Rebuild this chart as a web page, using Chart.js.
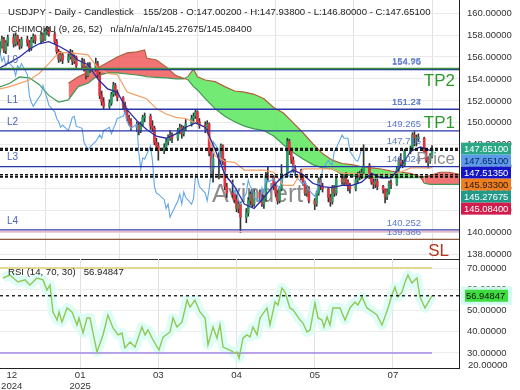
<!DOCTYPE html>
<html><head><meta charset="utf-8">
<script src="https://cdn.jsdelivr.net/npm/chart.js@4.4.0/dist/chart.umd.min.js"></script>
<style>
html,body{margin:0;padding:0;background:#fff;width:520px;height:390px;overflow:hidden}
#wrap{position:relative;width:520px;height:390px;background:#fff}
#c1{position:absolute;left:0;top:0}
#c2{position:absolute;left:0;top:259px}
</style></head><body>
<div id="wrap"><canvas id="c1" width="520" height="262"></canvas><canvas id="c2" width="520" height="131"></canvas></div>
<script>
// ---------------- DATA ----------------
const openVals = [
156.6,157.0,157.6,156.6,157.3, 157.8,157.2,157.9,157.4,157.0, 157.6,157.3,156.8,157.6,157.9, 157.5,158.0,157.6,158.3,158.5,
158.1,157.4,156.5,155.8,156.2, 155.7,156.0,156.4,155.6,156.0, 155.2,155.6,155.0,154.3,155.2, 154.9,155.4,154.4,152.5,151.9,
151.5,151.8,152.6,153.4,152.8, 152.3,151.6,151.0,150.4,150.1, 149.6,149.8,149.3,149.9,150.5, 150.6,149.7,149.5,148.2,147.9,
147.5,147.8,148.3,148.6,148.9, 148.6,149.3,149.6,149.0,149.5, 149.9,150.4,150.6,151.0,150.1, 149.8,149.5,149.9,147.3,145.8,
146.8,146.7,147.9,146.5,144.2, 143.6,143.5,143.0,142.2,142.6, 141.4,141.8,142.9,143.5,142.6, 143.7,143.2,142.6,143.1,145.2,
145.0,144.2,143.6,142.9,144.0, 145.4,148.3,147.5,146.6,145.8, 145.6,145.0,144.5,143.6,144.0, 142.9,142.6,143.6,144.8,144.2,
144.0,143.2,142.8,144.1,143.6, 144.9,144.6,144.9,144.6,144.2, 144.0,144.8,145.3,145.1,145.5, 146.1,145.2,144.6,144.4,144.7,
144.2,143.9,143.3,143.7,144.5, 144.4,145.8,146.6,146.3,146.2, 147.4,147.7,148.9,148.6,148.6, 148.6,147.4,146.6,146.5,147.002];
const highVals = [
157.4,157.9,157.8,157.5,158.0, 158.1,158.2,158.0,157.6,157.8, 157.9,157.5,157.8,158.1,158.0, 158.3,158.2,158.5,158.8,158.7,
158.3,157.6,156.7,156.5,156.4, 156.3,156.7,156.6,156.2,156.1, 155.9,155.8,155.2,155.5,155.5, 155.9,155.6,154.6,152.9,152.3,
152.1,152.8,153.7,153.6,153.0, 152.4,151.9,151.3,150.7,150.4, 150.1,150.0,150.1,150.7,150.9, 150.8,150.2,149.7,148.6,148.2,
148.1,148.5,148.9,149.3,149.1, 149.5,149.9,149.8,149.7,150.3, 150.7,150.9,151.2,151.1,150.4, 150.1,150.2,150.0,147.6,147.2,
147.3,148.1,148.0,146.7,144.5, 144.8,143.8,143.4,142.9,142.8, 142.2,143.2,143.7,143.9,143.9, 143.9,143.5,143.4,145.5,146.0,
145.2,144.4,143.8,144.2,146.2, 148.6,148.5,147.7,146.9,146.1, 145.8,145.3,144.7,144.3,144.2, 143.1,143.8,145.0,145.1,144.5,
144.1,143.5,144.3,144.3,145.1, 145.3,145.2,145.5,144.8,144.5, 145.0,145.5,145.6,145.8,148.0, 146.3,145.4,144.9,144.9,144.9,
144.3,144.0,144.0,144.7,144.8, 146.0,146.8,147.2,146.6,147.6, 147.9,149.1,149.2,148.9,149.0, 148.7,147.6,146.9,147.2,147.938];
const lowVals = [
156.2,156.8,156.4,156.3,157.0, 156.9,157.0,157.1,156.7,156.8, 157.0,156.5,156.6,157.3,157.2, 157.3,157.4,157.5,158.0,157.9,
157.2,156.3,155.5,155.6,155.4, 155.5,155.8,155.3,155.4,154.9, 155.0,154.7,154.0,154.2,154.6, 154.7,154.1,152.2,151.6,151.2,
151.3,151.6,152.4,152.5,152.0, 151.3,150.8,150.2,149.8,149.3, 149.2,148.9,149.1,149.7,150.1, 149.4,149.2,148.0,147.6,146.6,
147.2,147.5,148.0,148.4,148.2, 148.4,149.0,148.6,148.8,149.3, 149.7,150.0,150.4,149.9,149.5, 149.1,149.3,147.0,145.2,144.6,
144.9,146.3,146.2,143.9,143.2, 143.2,142.7,141.9,141.8,140.0, 140.9,141.5,142.5,142.3,142.4, 142.9,142.4,142.2,142.9,144.7,
143.9,143.3,142.6,142.7,143.8, 145.2,147.1,146.3,145.5,145.2, 144.8,144.3,143.4,143.3,142.7, 142.1,142.4,143.4,143.9,143.7,
142.8,142.4,142.6,143.3,143.4, 144.4,144.3,144.4,143.8,143.6, 143.8,144.5,144.8,144.9,145.3, 144.9,144.4,144.0,144.1,143.9,
143.6,142.7,143.0,143.5,144.0, 144.3,145.6,146.1,145.9,146.0, 147.2,147.5,147.9,147.9,148.3, 147.3,146.4,145.9,146.3,146.80];
const closeVals = [
157.0,157.6,156.6,157.3,157.8, 157.2,157.9,157.4,157.0,157.6, 157.3,156.8,157.6,157.9,157.5, 158.0,157.6,158.3,158.5,158.1,
157.4,156.5,155.8,156.2,155.7, 156.0,156.4,155.6,156.0,155.2, 155.6,155.0,154.3,155.2,154.9, 155.4,154.4,152.5,151.9,151.5,
151.8,152.6,153.4,152.8,152.3, 151.6,151.0,150.4,150.1,149.6, 149.8,149.3,149.9,150.5,150.6, 149.7,149.5,148.2,147.9,147.5,
147.8,148.3,148.6,148.9,148.6, 149.3,149.6,149.0,149.5,149.9, 150.4,150.6,151.0,150.1,149.8, 149.5,149.9,147.3,145.8,146.8,
146.7,147.9,146.5,144.2,143.6, 143.5,143.0,142.2,142.6,141.4, 141.8,142.9,143.5,142.6,143.7, 143.2,142.6,143.1,145.2,145.0,
144.2,143.6,142.9,144.0,145.4, 148.3,147.5,146.6,145.8,145.6, 145.0,144.5,143.6,144.0,142.9, 142.6,143.6,144.8,144.2,144.0,
143.2,142.8,144.1,143.6,144.9, 144.6,144.9,144.6,144.2,144.0, 144.8,145.3,145.1,145.5,146.1, 145.2,144.6,144.4,144.7,144.2,
143.9,143.3,143.7,144.5,144.4, 145.8,146.6,146.3,146.2,147.4, 147.7,148.9,148.6,148.6,148.6, 147.4,146.6,146.5,146.98,147.651];
// trading days (Mon-Fri) counted in calendar days from the first bar
const candleDays = [];
for (let k = 0; k < 32; k++) for (let j = 0; j < 5; j++) candleDays.push(7 * k + j);

// Ichimoku lines
const lineDays = [0,5,10,15,20,25,30,35,40,45,50,55,60,65,70,75,80,85,90,95,100,105,110,115,120,125,130,135,140,145,150,155,160,165,170,175,180,185,190,195,200,205,210,215,220,221];
const tenkan = [155.0,155.5,156.0,156.7,157.2,157.4,157.0,156.5,155.7,155.3,154.0,153.1,152.8,151.2,150.2,149.4,148.8,148.6,149.0,149.6,150.0,149.6,147.6,145.3,144.2,142.6,142.2,143.2,144.3,145.2,145.7,145.3,144.5,144.2,144.1,144.3,144.3,144.6,145.4,145.0,145.0,146.0,147.4,147.8,147.5,147.5135];
const kijun = [153.1,153.3,153.6,153.9,154.5,155.4,156.4,156.4,156.3,156.2,155.0,154.5,154.4,152.8,152.5,152.2,151.3,150.8,150.5,150.4,150.0,149.6,147.0,146.5,146.4,145.7,145.7,145.7,145.5,144.3,144.3,145.8,145.8,145.8,145.8,145.4,145.4,145.3,145.3,145.3,145.3,145.5,145.9,145.9,145.9,145.933];
const spanAEarlyDays = [0,5,10,15,20,25,30,35];
const spanAEarly = [153.27,153.6,154.18,154.1,153.5,152.5,151.9,152.1];
const cloudDays = [35,40,45,50,55,60,65,70,74,75,80,85,90,94,96,99,101,105,110,115,120,125,130,135,140,145,150,155,160,165,170,175,180,185,190,195,200,205,210,215,217,220,225,230,235];
const spanA = [152.1,153.3,153.6,154.3,154.55,154.55,154.45,154.36,154.25,154.2,154.15,154.1,154.0,154.0,154.2,154.9,154.2,153.9,153.75,153.3,152.9,152.8,152.6,152.2,151.4,150.9,150.0,149.1,148.1,147.2,146.6,146.3,146.2,146.0,145.9,145.8,145.6,145.5,145.4,145.1,144.5,144.4,144.4,144.4,144.4];
const spanB = [153.6,154.2,154.6,155.0,155.5,156.0,156.37,156.46,156.64,155.9,155.73,155.1,154.3,154.05,153.95,153.3,153.0,152.2,151.3,150.6,150.1,149.7,149.45,149.3,148.8,148.0,147.3,146.7,146.2,145.9,145.8,145.3,145.2,145.0,145.0,145.0,145.0,145.0,145.0,145.0,145.1,145.2,145.5,145.5,145.3];

// RSI (14)
const rsiDays = [1.5,5.1,9.2,12.8,15.3,18.9,22,24,25.6,27.1,29.2,30.2,31.7,34.3,36.8,39.4,40.4,42.5,44.5,46,49.6,52.7,55.2,57.8,60.4,62.4,63.9,66.5,69.1,72.6,74.2,75.7,78.3,81.3,83.4,87,88.5,90.5,93.1,95.7,97.2,99.7,102.3,104.9,106.4,109,111,112.5,114.1,117.6,120.2,121.2,122.3,124.3,126.3,127.9,129.4,131.5,133,136.6,138.1,140.7,142.2,144.2,145.8,148.3,149.9,153.5,155,157,158.6,161.1,162.7,164.7,165.7,167.3,168.8,170.3,173.9,176.5,179,181.6,183.1,185.2,187.7,190.8,192.8,195.4,196.9,198.5,200.5,202,203.6,205.6,207.2,208.7,210.7,213.3,214.8,217.4,221];
const rsiVals = [65.3,66.7,63.4,64.4,62.0,65.3,64.4,59.6,62.0,49.3,45.5,49.3,44.6,51.2,49.3,43.2,46.5,39.4,46.5,46.5,30.5,38.5,47.9,41.8,38.5,39.4,32.4,35.2,32.8,42.2,38.5,40.8,36.1,31.4,37.5,39.9,46.5,42.2,44.6,54.9,51.6,54.9,49.3,46.5,33.8,42.2,37.0,43.2,32.8,31.4,30.0,30.5,27.6,37.0,38.5,37.6,42.2,38.5,46.5,51.2,43.2,54.0,52.6,60.6,58.7,51.2,50.3,45.5,44.1,39.9,40.8,53.5,46.5,45.5,42.2,47.0,43.2,51.2,51.2,45.5,51.2,54.0,52.6,56.4,51.2,49.3,47.9,43.2,47.0,51.2,57.3,61.0,56.4,58.7,63.4,66.7,62.9,65.3,56.4,51.2,56.94847];

// levels
const levelVals  = [154.95, 154.86, 151.24, 149.265, 146.02, 140.252, 140.08, 139.386];
const dottedVals = [147.651, 147.5135, 145.27675, 145.084];
const levelTexts = [['154.95',154.95],['154.76',154.86],['151.27',151.24],['151.24',151.24],['149.265',149.265],['147.716',147.651],['146.024',146.02],['140.252',140.252],['139.386',139.386]];
const lineNames  = [['L0',154.86],['L1',151.24],['L2',149.265],['L3',146.02],['L4',140.252]];
const priceBoxVals = [147.651, 147.651, 147.5135, 145.933, 145.27675, 145.084];
const priceTicks = [138,140,142,144,146,148,150,152,154,156,158,160];
const rsiTicks = [30,40,50,60,70];
const rsiLast = 56.94847;
const tickDays = [6,41,81,121,161,201];
const tickLabels = [['12','2024'],['01','2025'],'03','04','05','07'];

// ---------------- STYLE ----------------
const FF = '"Liberation Sans", Arial, Helvetica, sans-serif';
const X_MAX = 234.8;
const P_MAX = 161.19, P_MIN = 137.60;
const R_MAX = 74.24, R_MIN = 22.94;
const lastDay = candleDays[candleDays.length - 1];
const levelColors = ['#3f8f3f','#1f2f9f','#2838a8','#2838a8','#2838a8','#3a3aa8','#e6b8cc','#8b5a3c'];
const boxStyles = [['#2aa886','#ffffff'],['#5b9bea','#0c1f5c'],['#1414c4','#ffffff'],['#f07d1e','#1a1a1a'],['#23998a','#ffffff'],['#d21c4c','#ffffff']];
const edgeTop = '#b0603c', edgeBottom = '#3d9a55';

function T(ctx, s, x, y, size, color, align) {
  ctx.save();
  ctx.font = size + 'px ' + FF;
  ctx.fillStyle = color;
  ctx.textAlign = align || 'left';
  ctx.textBaseline = 'middle';
  ctx.fillText(s, x, y);
  ctx.restore();
}
const pts = (xs, ys) => xs.map((x, i) => ({x, y: ys[i]}));
const hline = (v, x1) => [{x: 0, y: v}, {x: x1, y: v}];

// ---------------- PRICE CHART ----------------
const datasets1 = [];
datasets1.push({ // 0 span A (cloud part)
  data: pts(cloudDays, spanA), borderWidth: 1.2, pointRadius: 0, order: 20,
  fill: {target: 1, above: 'rgba(100,232,100,0.9)', below: 'rgba(238,90,90,0.85)'},
  segment: {borderColor: c => spanA[c.p0DataIndex] >= spanB[c.p0DataIndex] ? edgeTop : edgeBottom}
});
datasets1.push({ // 1 span B
  data: pts(cloudDays, spanB), borderWidth: 1.2, pointRadius: 0, order: 19, fill: false,
  segment: {borderColor: c => spanB[c.p0DataIndex] > spanA[c.p0DataIndex] ? edgeTop : edgeBottom}
});
datasets1.push({ data: pts(spanAEarlyDays, spanAEarly), borderColor: edgeBottom, borderWidth: 1.2, pointRadius: 0, order: 18, fill: false });
datasets1.push({ type: 'bar', data: candleDays.map((d, i) => ({x: d, y: [lowVals[i], highVals[i]]})),
  backgroundColor: '#333333', barThickness: 1, grouped: false, order: 9 });
datasets1.push({ type: 'bar', data: candleDays.map((d, i) => ({x: d, y: [openVals[i], closeVals[i]]})),
  backgroundColor: closeVals.map((c, i) => c >= openVals[i] ? '#2e9a64' : '#e2323e'),
  barThickness: 2, minBarLength: 1, grouped: false, order: 8 });
datasets1.push({ data: closeVals.slice(26).map((c, i) => ({x: candleDays[i], y: c})), borderColor: '#62a6e6', borderWidth: 1.1, pointRadius: 0, order: 7, fill: false });
datasets1.push({ data: pts(lineDays, kijun), borderColor: '#f2a066', borderWidth: 1.2, pointRadius: 0, order: 6, fill: false });
datasets1.push({ data: pts(lineDays, tenkan), borderColor: '#2a2aa6', borderWidth: 1.3, pointRadius: 0, order: 5, fill: false });
levelVals.forEach((v, i) => datasets1.push({ data: hline(v, X_MAX), borderColor: levelColors[i], borderWidth: 1.3, pointRadius: 0, order: 2, fill: false }));
dottedVals.forEach(v => datasets1.push({ data: hline(v, X_MAX), borderColor: '#111', borderWidth: 1.6, borderDash: [3, 2], pointRadius: 0, order: 1, fill: false }));

const priceDecor = {
  id: 'priceDecor',
  beforeDatasetsDraw(chart) {
    const ctx = chart.ctx, y = chart.scales.y;
    T(ctx, 'Avindert', 212, y.getPixelForValue(143.4), 25, '#8c8c8c');
  },
  afterDraw(chart) {
    const ctx = chart.ctx, y = chart.scales.y;
    T(ctx, 'USDJPY - Daily - Candlestick', 8, 12, 9.6, '#222');
    T(ctx, '155/208 - O:147.00200 - H:147.93800 - L:146.80000 - C:147.65100', 143, 12, 9.6, '#222');
    T(ctx, 'ICHIMOKU (9, 26, 52)   n/a/n/a/n/a/145.27675/145.08400', 8, 29, 9.6, '#222');
    levelTexts.forEach(([s, v]) => T(ctx, s, 421, y.getPixelForValue(v) - 7, 9.5, '#5a78cc', 'right'));
    lineNames.forEach(([s, v]) => T(ctx, s, 7, y.getPixelForValue(v) - 9, 10, '#4a62c0'));
    T(ctx, 'TP2', 455, y.getPixelForValue(154.86) + 12, 17, '#2e9a2e', 'right');
    T(ctx, 'TP1', 455, y.getPixelForValue(149.265) - 8, 17, '#2e9a2e', 'right');
    T(ctx, 'SL', 449, y.getPixelForValue(139.386) + 12, 17, '#b2361e', 'right');
    T(ctx, 'Price', 455, y.getPixelForValue(146.02) - 7, 17, '#8c8c8c', 'right');
    const y0 = y.getPixelForValue(priceBoxVals[0]);
    priceBoxVals.forEach((v, i) => {
      const cy = y0 + 12 * i;
      ctx.fillStyle = boxStyles[i][0];
      ctx.fillRect(461, cy - 6, 50, 12);
      T(ctx, v.toFixed(5), 464, cy + 0.5, 9.4, boxStyles[i][1]);
    });
  }
};

new Chart(document.getElementById('c1'), {
  type: 'line',
  data: {datasets: datasets1},
  options: {
    responsive: false, animation: false, events: [],
    layout: {padding: {left: 0, right: 0, top: 0, bottom: 3}},
    plugins: {legend: {display: false}, tooltip: {enabled: false}},
    elements: {line: {tension: 0}},
    scales: {
      x: {type: 'linear', min: 0, max: X_MAX, offset: false,
        afterBuildTicks: s => { s.ticks = tickDays.map(v => ({value: v})); },
        ticks: {display: false},
        grid: {color: c => c.index === 0 ? 'rgba(0,0,0,0)' : '#e2e2e2', drawTicks: false},
        border: {display: true, color: '#333'},
        afterFit: s => { s.height = 0; s.paddingLeft = 0; s.paddingRight = 0; }},
      y: {position: 'right', min: P_MIN, max: P_MAX,
        afterBuildTicks: s => { s.ticks = priceTicks.map(v => ({value: v})); },
        ticks: {callback: v => Number(v).toFixed(5), font: {size: 9.5, family: FF}, color: '#333', padding: 8, autoSkip: false},
        grid: {color: '#e9e9e9', drawTicks: false},
        border: {color: '#222'},
        afterFit: s => { s.width = 61; s.paddingTop = 0; s.paddingBottom = 0; }}
    }
  },
  plugins: [priceDecor]
});

// ---------------- RSI CHART ----------------
const rsiPts = pts(rsiDays, rsiVals);
const datasets2 = [
  {data: hline(70, lastDay), borderColor: '#e4d993', borderWidth: 2, pointRadius: 0, order: 3},
  {data: hline(30, lastDay), borderColor: '#a487e6', borderWidth: 1.6, pointRadius: 0, order: 3},
  {data: hline(rsiLast, X_MAX), borderColor: '#111', borderWidth: 1.3, borderDash: [3, 3], pointRadius: 0, order: 1},
  {data: rsiPts, borderColor: 'rgba(214,252,244,0.8)', borderWidth: 10, pointRadius: 0, order: 4, borderJoinStyle: 'round'},
  {data: rsiPts, borderColor: '#93c755', borderWidth: 1.4, pointRadius: 0, order: 2}
];
const rsiDecor = {
  id: 'rsiDecor',
  afterDraw(chart) {
    const ctx = chart.ctx, y = chart.scales.y;
    T(ctx, 'RSI (14, 70, 30)   56.94847', 8, 13, 9.6, '#222');
    T(ctx, '20.00000', 468, 106, 9.5, '#333');
    const cy = y.getPixelForValue(rsiLast);
    ctx.fillStyle = 'rgba(205,252,240,0.9)';
    ctx.fillRect(461, cy - 9, 51, 18);
    ctx.fillStyle = '#3fdc3f';
    ctx.fillRect(465, cy - 6, 43, 12);
    T(ctx, rsiLast.toFixed(5), 466, cy + 0.5, 9.4, '#111');
  }
};
new Chart(document.getElementById('c2'), {
  type: 'line',
  data: {datasets: datasets2},
  options: {
    responsive: false, animation: false, events: [],
    layout: {padding: 0},
    plugins: {legend: {display: false}, tooltip: {enabled: false}},
    elements: {line: {tension: 0}},
    scales: {
      x: {type: 'linear', min: 0, max: X_MAX, offset: false,
        afterBuildTicks: s => { s.ticks = tickDays.map(v => ({value: v})); },
        ticks: {callback: (v, i) => tickLabels[i], font: {size: 9.6, family: FF, lineHeight: 1.15}, color: '#333', padding: 2, maxRotation: 0, autoSkip: false},
        grid: {color: c => c.index === 0 ? 'rgba(0,0,0,0)' : '#e2e2e2', drawTicks: false},
        border: {color: '#222'},
        afterFit: s => { s.height = 22; s.paddingLeft = 0; s.paddingRight = 0; }},
      y: {position: 'right', min: R_MIN, max: R_MAX,
        afterBuildTicks: s => { s.ticks = rsiTicks.map(v => ({value: v})); },
        ticks: {callback: v => Number(v).toFixed(5), font: {size: 9.5, family: FF}, color: '#333', padding: 8, autoSkip: false},
        grid: {color: '#ececec', drawTicks: false},
        border: {color: '#222'},
        afterFit: s => { s.width = 61; s.paddingTop = 0; s.paddingBottom = 0; }}
    }
  },
  plugins: [rsiDecor]
});
</script>
</body></html>
